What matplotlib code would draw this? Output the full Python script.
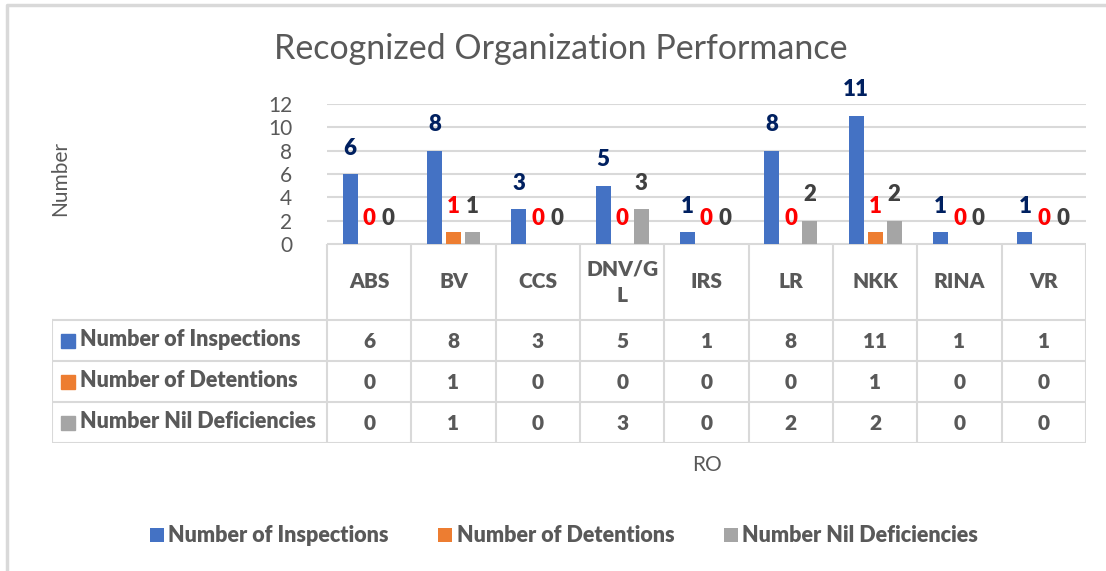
import numpy as np
import matplotlib
matplotlib.use('Agg')
import matplotlib.pyplot as plt
from matplotlib.patches import Rectangle

plt.rcParams['font.family'] = ['Lato', 'DejaVu Sans']

categories = ['ABS', 'BV', 'CCS', 'DNV/GL', 'IRS', 'LR', 'NKK', 'RINA', 'VR']
header_labels = ['ABS', 'BV', 'CCS', 'DNV/G\nL', 'IRS', 'LR', 'NKK', 'RINA', 'VR']
inspections = [6, 8, 3, 5, 1, 8, 11, 1, 1]
detentions = [0, 1, 0, 0, 0, 0, 1, 0, 0]
nil_deficiencies = [0, 1, 0, 3, 0, 2, 2, 0, 0]
series_names = ['Number of Inspections', 'Number of Detentions', 'Number Nil Deficiencies']

bar_colors = ['#4472c4', '#ed7d31', '#a5a5a5']
label_colors = ['#002060', '#ff0000', '#404040']
grey_text = '#595959'
line_col = '#d9d9d9'
BOLD = 'heavy'

W, H = 1106, 571
fig = plt.figure(figsize=(W / 100, H / 100), dpi=100)

# pixel layout helpers
plot_l, plot_r, plot_t, plot_b = 327, 1086, 104, 244
tab_l, tab_b = 52, 443
row_h = 41
head_b = 320
n = len(categories)
col_w = (plot_r - plot_l) / n


def fx(px):
    return px / W


def fy(py):
    return 1 - py / H


# outer frame of the chart
frame = fig.add_axes([0, 0, 1, 1])
frame.set_xlim(0, W)
frame.set_ylim(H, 0)
frame.axis('off')
frame.plot([7, 7, W], [H, 5, 5], color='#d9d9d9', lw=2.5)

ax = fig.add_axes([fx(plot_l), fy(plot_b), fx(plot_r - plot_l), (plot_b - plot_t) / H])
x = np.arange(n)
offsets = [-0.225, 0, 0.225]
series = [inspections, detentions, nil_deficiencies]
for vals, off, c, lc, name in zip(series, offsets, bar_colors, label_colors, series_names):
    bars = ax.bar(x + off, vals, width=0.175, color=c, label=name, zorder=3)
    for b, v in zip(bars, vals):
        ax.annotate(str(v), (b.get_x() + b.get_width() / 2, v), xytext=(0, 18.5),
                    textcoords='offset points', ha='center', va='center',
                    fontsize=16, fontweight=BOLD, color=lc, annotation_clip=False)

ax.set_xlim(-0.5, n - 0.5)
ax.set_ylim(0, 12)
ax.set_yticks(range(0, 13, 2))
ax.yaxis.grid(True, color=line_col, lw=1.5, zorder=0)
ax.set_xticks([])
for s in ['top', 'right', 'left', 'bottom']:
    ax.spines[s].set_visible(False)
ax.tick_params(axis='y', length=0, labelsize=15, labelcolor=grey_text, pad=25)

# data table below the plot
tab = fig.add_axes([fx(tab_l), fy(tab_b), fx(plot_r - tab_l), (tab_b - plot_b) / H])
tab.set_xlim(tab_l, plot_r)
tab.set_ylim(tab_b, plot_b)
tab.axis('off')
for i in range(n + 1):
    xx = plot_l + i * col_w
    tab.plot([xx, xx], [plot_b, tab_b], color=line_col, lw=1.5)
tab.plot([tab_l, tab_l], [head_b, tab_b], color=line_col, lw=1.5)
tab.plot([plot_l, plot_r], [plot_b, plot_b], color=line_col, lw=1.5)
for r in range(4):
    yy = head_b + r * row_h
    tab.plot([tab_l, plot_r], [yy, yy], color=line_col, lw=1.5)

for i, lab in enumerate(header_labels):
    tab.text(plot_l + (i + 0.5) * col_w, (plot_b + head_b) / 2, lab, ha='center', va='center',
             fontsize=15, fontweight=BOLD, color=grey_text, linespacing=1.5)

for r, (vals, name, c) in enumerate(zip(series, series_names, bar_colors)):
    yc = head_b + (r + 0.5) * row_h
    tab.add_patch(Rectangle((61, yc - 7), 14, 14, color=c, clip_on=False))
    tab.text(80, yc - 1, name, ha='left', va='center', fontsize=15.5,
             fontweight=BOLD, color=grey_text)
    for i, v in enumerate(vals):
        tab.text(plot_l + (i + 0.5) * col_w, yc + 1, str(v), ha='center', va='center',
                 fontsize=15, fontweight=BOLD, color=grey_text)

fig.text(fx(561), fy(49), 'Recognized Organization Performance', ha='center', va='center',
         fontsize=24.5, color=grey_text)
fig.text(fx((plot_l + plot_r) / 2), fy(465), 'RO', ha='center', va='center',
         fontsize=15, color=grey_text)
fig.text(fx(60), fy(178), 'Number', ha='center', va='center', rotation=90,
         fontsize=15, color=grey_text)

handles, labels = ax.get_legend_handles_labels()
leg = fig.legend(handles, labels, loc='center', bbox_to_anchor=(fx(564), fy(536)), ncol=3,
                 frameon=False, handlelength=0.65, handleheight=0.65, handletextpad=0.2,
                 columnspacing=2.3, prop={'size': 15.5, 'weight': BOLD})
for t in leg.get_texts():
    t.set_color(grey_text)

fig.savefig('out.png', dpi=100)
